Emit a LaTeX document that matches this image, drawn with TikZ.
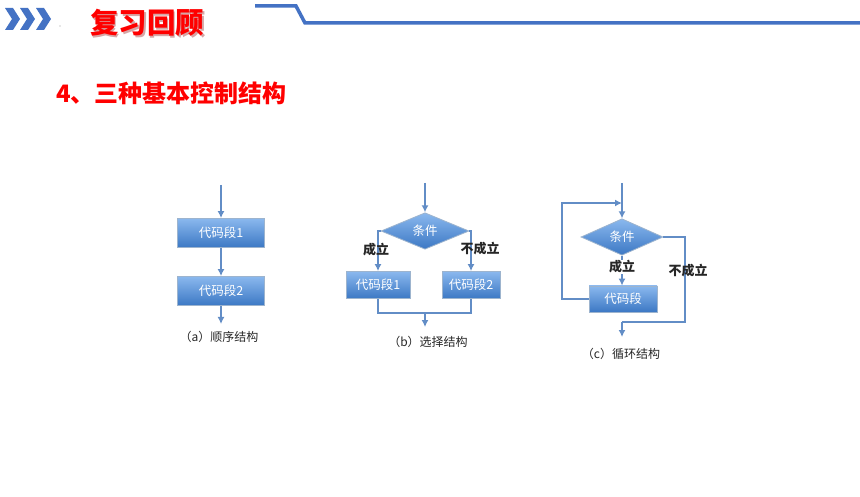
\documentclass[tikz,border=0pt]{standalone}
\usepackage{fontspec}
\newfontfamily\cjk{Noto Sans CJK SC}
\usetikzlibrary{arrows.meta,shapes.geometric,calc}
\definecolor{hdrblue}{HTML}{4472C4}
\definecolor{conn}{HTML}{628DC6}
\definecolor{boxtop}{HTML}{8AB8EE}
\definecolor{boxbot}{HTML}{3C78C4}
\definecolor{boxedge}{HTML}{9DB4CE}
\definecolor{titlered}{HTML}{FF0000}
\tikzset{
  codebox/.style={rectangle, shading=axis, top color=boxtop, bottom color=boxbot,
    draw=boxedge, line width=0.8pt, text=white, font=\cjk\fontsize{12.5}{12.5}\selectfont,
    inner sep=0pt},
  conddia/.style={diamond, shading=axis, top color=boxtop, bottom color=boxbot,
    draw=boxedge, line width=0.8pt, text=white, font=\cjk\fontsize{12.5}{12.5}\selectfont,
    inner sep=0pt},
  wire/.style={draw=conn, line width=2.3pt},
  arr/.style={wire, -{Latex[length=7pt,width=7pt]}},
  lbl/.style={font=\cjk\bfseries\fontsize{13}{13}\selectfont, text=black!85, inner sep=0.5pt},
  captext/.style={font=\cjk\fontsize{12}{12}\selectfont, text=black!85, inner sep=0pt},
  chev/.style={fill=hdrblue, draw=none}
}
\begin{document}
\begin{tikzpicture}[x=1pt,y=-1pt]
\useasboundingbox[fill=white] (0,0) rectangle (860,497);
% header chevrons
\foreach \x in {5,20,36}{
  \fill[chev] (\x,8) -- (\x+8,8) -- (\x+15,19) -- (\x+8,30) -- (\x,30) -- (\x+7,19) -- cycle;
}
\fill[black!40] (60,26) circle (0.6);
% title
\node[font=\cjk\bfseries\fontsize{28.5}{28.5}\selectfont, text=red!55!black, opacity=0.35, inner sep=0pt] at (148.5,24.5) {复习回顾};
\node (title) [font=\cjk\bfseries\fontsize{28.5}{28.5}\selectfont, text=titlered, inner sep=0pt] at (147,23) {复习回顾};
% header line
\coordinate (h1) at (255,6);
\coordinate (h2) at (296,6);
\coordinate (h3) at (305,23);
\coordinate (h4) at (860,23);
\draw[hdrblue, line width=3.5pt] (h1) -- (h2) -- (h3) -- (h4);
% subtitle
\node (sub) [anchor=west, font=\cjk\bfseries\fontsize{24}{24}\selectfont, text=titlered, inner sep=0pt] at (56,93) {4、三种基本控制结构};

% (a) sequence
\coordinate (a0) at (221,185);
\node (a1) [codebox, minimum width=87pt, minimum height=29pt] at (221,233) {代码段1};
\node (a2) [codebox, minimum width=87pt, minimum height=29pt] at (221,291) {代码段2};
\coordinate (a3) at (221,324);
\draw[arr] (a0) -- (a1.north);
\draw[arr] (a1.south) -- (a2.north);
\draw[arr] (a2.south) -- (a3);
\node (capa) [captext] at (219,337) {（a）顺序结构};

% (b) selection
\coordinate (b0) at (425,183);
\node (bd) [conddia, minimum width=88pt, minimum height=33pt] at (425,231) {条件};
\node (b1) [codebox, minimum width=64pt, minimum height=27pt] at (378,285) {代码段1};
\node (b2) [codebox, minimum width=58pt, minimum height=27pt] at (471,285) {代码段2};
\coordinate (bj) at (425,313);
\coordinate (bout) at (425,327);
\draw[arr] (b0) -- (bd.north);
\draw[arr] (bd.west) -| (b1.north);
\draw[arr] (bd.east) -| (b2.north);
\draw[wire] (b1.south) |- (bj) -| (b2.south);
\draw[arr] (bj) -- (bout);
\node (by) [lbl] at (376,250) {成立};
\node (bn) [lbl] at (480,249) {不成立};
\node (capb) [captext] at (428,342) {（b）选择结构};

% (c) loop
\coordinate (c0) at (622,183);
\node (cd) [conddia, minimum width=82pt, minimum height=32pt] at (622,237) {条件};
\node (c1) [codebox, minimum width=68pt, minimum height=26pt] at (623,299) {代码段};
\coordinate (cl) at (562,203);
\coordinate (cm) at (622,203);
\coordinate (cr) at (685,322);
\coordinate (cj) at (622,322);
\coordinate (cout) at (622,337);
\draw[arr] (c0) -- (cd.north);
\draw[arr] (cd.south) -- (c1.north -| cd.south);
\draw[arr] (c1.west) -| (cl) -- (cm);
\draw[wire] (cd.east) -| (cr) -- (cj);
\draw[arr] (cj) -- (cout);
\node (cy) [lbl, fill=white] at (622,267) {成立};
\node (cn) [lbl] at (688,271) {不成立};
\node (capc) [captext] at (621,354) {（c）循环结构};
\end{tikzpicture}
\end{document}
